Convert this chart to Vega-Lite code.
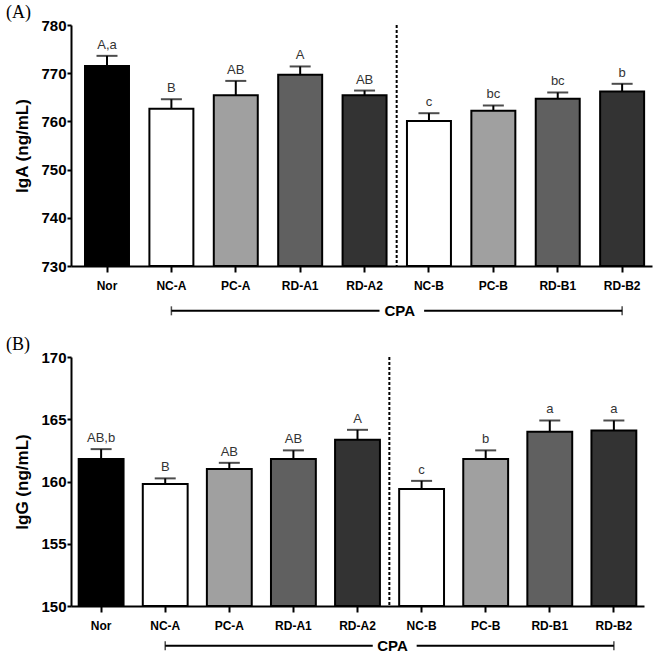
{
  "$schema": "https://vega.github.io/schema/vega-lite/v6.json",
  "padding": {"top": 4, "left": 5, "right": 5, "bottom": 0},
  "spacing": 17,
  "config": {"view": {"stroke": null}, "background": "white"},
  "datasets": {
    "iga": [
      {"group": "Nor", "mean": 771.5, "upper": 773.6, "label": "A,a"},
      {"group": "NC-A", "mean": 762.6, "upper": 764.6, "label": "B"},
      {"group": "PC-A", "mean": 765.4, "upper": 768.4, "label": "AB"},
      {"group": "RD-A1", "mean": 769.7, "upper": 771.4, "label": "A"},
      {"group": "RD-A2", "mean": 765.4, "upper": 766.4, "label": "AB"},
      {"group": "NC-B", "mean": 760.1, "upper": 761.7, "label": "c"},
      {"group": "PC-B", "mean": 762.2, "upper": 763.3, "label": "bc"},
      {"group": "RD-B1", "mean": 764.7, "upper": 766.0, "label": "bc"},
      {"group": "RD-B2", "mean": 766.2, "upper": 767.8, "label": "b"}
    ],
    "igg": [
      {"group": "Nor", "mean": 161.8, "upper": 162.6, "label": "AB,b"},
      {"group": "NC-A", "mean": 159.8, "upper": 160.25, "label": "B"},
      {"group": "PC-A", "mean": 161.0, "upper": 161.5, "label": "AB"},
      {"group": "RD-A1", "mean": 161.8, "upper": 162.5, "label": "AB"},
      {"group": "RD-A2", "mean": 163.35, "upper": 164.15, "label": "A"},
      {"group": "NC-B", "mean": 159.4, "upper": 160.05, "label": "c"},
      {"group": "PC-B", "mean": 161.8, "upper": 162.5, "label": "b"},
      {"group": "RD-B1", "mean": 164.0, "upper": 164.9, "label": "a"},
      {"group": "RD-B2", "mean": 164.1, "upper": 164.9, "label": "a"}
    ],
    "bracket": [
      {"label": "CPA", "start": "NC-A", "mid": "RD-A2", "after": "NC-B", "end": "RD-B2"}
    ]
  },
  "vconcat": [
    {
      "title": {"text": "(A)", "font": "Liberation Serif", "fontSize": 18, "fontWeight": "normal", "color": "#000", "anchor": "start", "frame": "bounds", "dx": -8, "offset": -4},
      "width": 581,
      "height": 241,
      "layer": [
        {
          "data": {"name": "iga"},
          "mark": {"type": "bar", "stroke": "#000", "strokeWidth": 2},
          "encoding": {
            "x": {"field": "group", "type": "nominal", "sort": null,
              "scale": {"domain": ["Nor", "NC-A", "PC-A", "RD-A1", "RD-A2", "NC-B", "PC-B", "RD-B1", "RD-B2"], "paddingInner": 0.317, "paddingOuter": 0.17, "align": 0.64},
              "axis": {"title": null, "labelAngle": 0, "labelFont": "Liberation Sans", "labelFontSize": 12, "labelFontWeight": "bold", "labelColor": "#000", "domainColor": "#000", "domainWidth": 2, "tickColor": "#000", "tickWidth": 2, "tickSize": 6, "labelPadding": 8}},
            "y": {"field": "mean", "type": "quantitative",
              "scale": {"domain": [730, 780], "nice": false, "zero": false},
              "axis": {"title": "IgA (ng/mL)", "values": [730, 740, 750, 760, 770, 780], "grid": false, "labelFont": "Liberation Sans", "labelFontSize": 15, "labelFontWeight": "bold", "labelColor": "#000", "titleFont": "Liberation Sans", "titleFontSize": 17, "titleFontWeight": "bold", "titleColor": "#000", "domainColor": "#000", "domainWidth": 2, "tickColor": "#000", "tickWidth": 2, "tickSize": 4, "labelPadding": 1, "titlePadding": 9}},
            "y2": {"datum": 730},
            "color": {"field": "group", "type": "nominal", "legend": null,
              "scale": {"domain": ["Nor", "NC-A", "PC-A", "RD-A1", "RD-A2", "NC-B", "PC-B", "RD-B1", "RD-B2"], "range": ["#000000", "#ffffff", "#a0a0a0", "#606060", "#333333", "#ffffff", "#a0a0a0", "#606060", "#333333"]}}
          }
        },
        {
          "data": {"name": "iga"},
          "mark": {"type": "rule", "strokeWidth": 2, "color": "#000"},
          "encoding": {"x": {"field": "group", "type": "nominal"}, "y": {"field": "mean", "type": "quantitative"}, "y2": {"field": "upper"}}
        },
        {
          "data": {"name": "iga"},
          "mark": {"type": "tick", "size": 21, "thickness": 2, "color": "#000"},
          "encoding": {"x": {"field": "group", "type": "nominal"}, "y": {"field": "upper", "type": "quantitative"}}
        },
        {
          "data": {"name": "iga"},
          "mark": {"type": "text", "font": "Liberation Sans", "fontSize": 13, "color": "#333", "baseline": "alphabetic", "dy": -7},
          "encoding": {"x": {"field": "group", "type": "nominal"}, "y": {"field": "upper", "type": "quantitative"}, "text": {"field": "label"}}
        },
        {
          "data": {"name": "bracket"},
          "mark": {"type": "rule", "strokeDash": [3, 2], "strokeWidth": 2, "color": "#000"},
          "encoding": {"x": {"field": "mid", "type": "nominal", "bandPosition": 1.23}, "y": {"datum": 780}, "y2": {"datum": 730}}
        },
        {
          "data": {"name": "bracket"},
          "mark": {"type": "rule", "strokeWidth": 2, "color": "#000"},
          "encoding": {"x": {"field": "start", "type": "nominal"}, "x2": {"field": "mid", "bandPosition": 0.84}, "y": {"datum": 720.7}}
        },
        {
          "data": {"name": "bracket"},
          "mark": {"type": "rule", "strokeWidth": 2, "color": "#000"},
          "encoding": {"x": {"field": "after", "type": "nominal", "bandPosition": 0.39}, "x2": {"field": "end"}, "y": {"datum": 720.7}}
        },
        {
          "data": {"name": "bracket"},
          "mark": {"type": "tick", "orient": "vertical", "size": 9, "thickness": 1.5, "color": "#000"},
          "encoding": {"x": {"field": "start", "type": "nominal"}, "y": {"datum": 720.7}}
        },
        {
          "data": {"name": "bracket"},
          "mark": {"type": "tick", "orient": "vertical", "size": 9, "thickness": 1.5, "color": "#000"},
          "encoding": {"x": {"field": "end", "type": "nominal"}, "y": {"datum": 720.7}}
        },
        {
          "data": {"name": "bracket"},
          "mark": {"type": "text", "font": "Liberation Sans", "fontSize": 15, "fontWeight": "bold", "color": "#000", "baseline": "middle"},
          "encoding": {"x": {"field": "mid", "type": "nominal", "bandPosition": 1.3}, "y": {"datum": 720.7}, "text": {"field": "label"}}
        }
      ]
    },
    {
      "title": {"text": "(B)", "font": "Liberation Serif", "fontSize": 18, "fontWeight": "normal", "color": "#000", "anchor": "start", "frame": "bounds", "dx": -8, "offset": -4},
      "width": 573,
      "height": 249,
      "layer": [
        {
          "data": {"name": "igg"},
          "mark": {"type": "bar", "stroke": "#000", "strokeWidth": 2},
          "encoding": {
            "x": {"field": "group", "type": "nominal", "sort": null,
              "scale": {"domain": ["Nor", "NC-A", "PC-A", "RD-A1", "RD-A2", "NC-B", "PC-B", "RD-B1", "RD-B2"], "paddingInner": 0.3, "paddingOuter": 0.12, "align": 0.5},
              "axis": {"title": null, "labelAngle": 0, "labelFont": "Liberation Sans", "labelFontSize": 12, "labelFontWeight": "bold", "labelColor": "#000", "domainColor": "#000", "domainWidth": 2, "tickColor": "#000", "tickWidth": 2, "tickSize": 6, "labelPadding": 8}},
            "y": {"field": "mean", "type": "quantitative",
              "scale": {"domain": [150, 170], "nice": false, "zero": false},
              "axis": {"title": "IgG (ng/mL)", "values": [150, 155, 160, 165, 170], "grid": false, "labelFont": "Liberation Sans", "labelFontSize": 15, "labelFontWeight": "bold", "labelColor": "#000", "titleFont": "Liberation Sans", "titleFontSize": 17, "titleFontWeight": "bold", "titleColor": "#000", "domainColor": "#000", "domainWidth": 2, "tickColor": "#000", "tickWidth": 2, "tickSize": 4, "labelPadding": 1, "titlePadding": 9}},
            "y2": {"datum": 150},
            "color": {"field": "group", "type": "nominal", "legend": null,
              "scale": {"domain": ["Nor", "NC-A", "PC-A", "RD-A1", "RD-A2", "NC-B", "PC-B", "RD-B1", "RD-B2"], "range": ["#000000", "#ffffff", "#a0a0a0", "#606060", "#333333", "#ffffff", "#a0a0a0", "#606060", "#333333"]}}
          }
        },
        {
          "data": {"name": "igg"},
          "mark": {"type": "rule", "strokeWidth": 2, "color": "#000"},
          "encoding": {"x": {"field": "group", "type": "nominal"}, "y": {"field": "mean", "type": "quantitative"}, "y2": {"field": "upper"}}
        },
        {
          "data": {"name": "igg"},
          "mark": {"type": "tick", "size": 21, "thickness": 2, "color": "#000"},
          "encoding": {"x": {"field": "group", "type": "nominal"}, "y": {"field": "upper", "type": "quantitative"}}
        },
        {
          "data": {"name": "igg"},
          "mark": {"type": "text", "font": "Liberation Sans", "fontSize": 13, "color": "#333", "baseline": "alphabetic", "dy": -7},
          "encoding": {"x": {"field": "group", "type": "nominal"}, "y": {"field": "upper", "type": "quantitative"}, "text": {"field": "label"}}
        },
        {
          "data": {"name": "bracket"},
          "mark": {"type": "rule", "strokeDash": [3, 2], "strokeWidth": 2, "color": "#000"},
          "encoding": {"x": {"field": "mid", "type": "nominal", "bandPosition": 1.21}, "y": {"datum": 170}, "y2": {"datum": 150}}
        },
        {
          "data": {"name": "bracket"},
          "mark": {"type": "rule", "strokeWidth": 2, "color": "#000"},
          "encoding": {"x": {"field": "start", "type": "nominal"}, "x2": {"field": "mid", "bandPosition": 0.84}, "y": {"datum": 146.8}}
        },
        {
          "data": {"name": "bracket"},
          "mark": {"type": "rule", "strokeWidth": 2, "color": "#000"},
          "encoding": {"x": {"field": "after", "type": "nominal", "bandPosition": 0.39}, "x2": {"field": "end"}, "y": {"datum": 146.8}}
        },
        {
          "data": {"name": "bracket"},
          "mark": {"type": "tick", "orient": "vertical", "size": 9, "thickness": 1.5, "color": "#000"},
          "encoding": {"x": {"field": "start", "type": "nominal"}, "y": {"datum": 146.8}}
        },
        {
          "data": {"name": "bracket"},
          "mark": {"type": "tick", "orient": "vertical", "size": 9, "thickness": 1.5, "color": "#000"},
          "encoding": {"x": {"field": "end", "type": "nominal"}, "y": {"datum": 146.8}}
        },
        {
          "data": {"name": "bracket"},
          "mark": {"type": "text", "font": "Liberation Sans", "fontSize": 15, "fontWeight": "bold", "color": "#000", "baseline": "middle"},
          "encoding": {"x": {"field": "mid", "type": "nominal", "bandPosition": 1.28}, "y": {"datum": 146.8}, "text": {"field": "label"}}
        }
      ]
    }
  ]
}
